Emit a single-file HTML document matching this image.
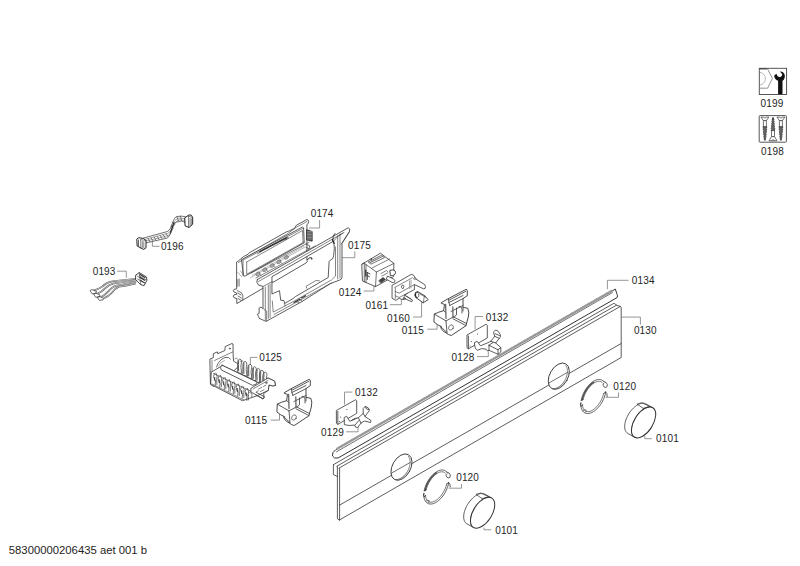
<!DOCTYPE html>
<html><head><meta charset="utf-8"><style>
html,body{margin:0;padding:0;background:#fff;width:800px;height:566px;overflow:hidden}
svg{display:block}
text{font-family:"Liberation Sans",sans-serif;font-size:10px;letter-spacing:0.15px;fill:#1e1e1e}
.ft{font-size:11.3px;letter-spacing:0}
.ld{fill:none;stroke:#8a8a8a;stroke-width:0.9}
.k{fill:none;stroke:#333;stroke-width:0.8;stroke-linejoin:round;stroke-linecap:round}
.kw{fill:#fff}
.g{fill:none;stroke:#999;stroke-width:0.6}
</style></head><body>
<svg width="800" height="566" viewBox="0 0 800 566">
<path class="ld" d="M319.6 220 V228 H309 M354.8 251.4 V257.7 H342.1 M152.4 240.6 V246.3 H159.5 M117.1 271.2 H126.3 V277.7 M363.7 291 H373.9 V285.7 M389.8 304.7 H401.4 V299.4 M413.1 317 H421.6 V299.4 M427.4 329.2 H437.1 V323.9 M483 316.5 H475.1 V329.2 M476.9 356.6 H488.3 V351.3 M257.4 357.4 H250.4 V368 M270.7 420.1 H279.5 V413.9 M352.4 392.1 H344.5 V404.5 M346.2 431.8 H358 V426.5 M628.6 280.3 H607.4 V289.2 M621.5 317.1 H640.4 V324.5 M618.5 392.5 V397.3 H605.7 M651.8 438.7 H644.75 V436 M461.5 484 V488.2 H448.75 M491.2 529.75 H484 V527.5"/>
<!-- 10_panel.svg -->
<g class="k">
<!-- flange lines -->
<path d="M333.4 464.7 L613.3 303.6 Q615 302.8 616.4 305.2 L620.3 306.4 Q621.2 307 621.2 308 V357.5 L339.4 520"/>
<path d="M336.9 466.2 L616.4 305.2"/>
<path d="M338.9 468.2 L620.3 306.4"/>
<path d="M333.4 464.7 V474.5 L337.4 476.5"/>
<path d="M337.4 466.5 V518.8 L339.4 520 M339.6 468.5 V520"/>
<path d="M339.6 505.1 L621.2 343.5"/>
<!-- rail 0134 -->
<path d="M615 289.3 L336 449.5 Q331.5 452.5 332.5 456 Q334 459 338 458 L617.2 297.5 Q618 296 617 294 Z" stroke-width="1"/>
<path d="M612.4 292.6 L336.5 451.8" stroke-width="0.7"/>
<path d="M611.5 291 L337.5 448.5" stroke="#999" stroke-width="2.4" stroke-dasharray="0.5 0.7"/>
</g>

<!-- 12_holes.svg -->
<g class="k">
<ellipse class="kw" cx="401.50" cy="467.10" rx="9.10" ry="14.20" transform="rotate(29.50 401.50 467.10)" stroke-width="0.85"/>
<path d="M408.44 456.35 L408.90 457.02 L409.29 457.77 L409.62 458.59 L409.86 459.47 L410.03 460.41 L410.13 461.40 L410.15 462.42 L410.08 463.48 L409.94 464.57 L409.73 465.67 L409.44 466.78 L409.08 467.90 L408.64 469.00 L408.14 470.09 L407.58 471.15 L406.96 472.17 L406.29 473.16 L405.57 474.10 L404.80 474.98 L404.00 475.81 L403.16 476.56 L402.30 477.24 L401.43 477.84 L400.54 478.35 L399.64 478.78 L398.75 479.11 L397.87 479.36 L397.00 479.50 L396.15 479.55 L395.34 479.50 L394.55 479.36" stroke-width="0.6"/>
<path d="M406.29 473.16 L408.51 473.05 M404.96 474.81 L407.19 474.81 M403.50 476.27 L405.72 476.38 M401.95 477.49 L404.16 477.73 M400.36 478.44 L402.52 478.81 M398.75 479.11 L400.87 479.60 M397.17 479.48 L399.22 480.08 M395.66 479.54 L397.64 480.25 M394.25 479.28 L396.15 480.09 " stroke="#777" stroke-width="0.5"/>
<path d="M391.30 473.27 L410.10 462.50" stroke-width="0.7"/>
<ellipse class="kw" cx="558.80" cy="376.20" rx="9.10" ry="14.20" transform="rotate(29.50 558.80 376.20)" stroke-width="0.85"/>
<path d="M565.74 365.45 L566.20 366.12 L566.59 366.87 L566.92 367.69 L567.16 368.57 L567.33 369.51 L567.43 370.50 L567.45 371.52 L567.38 372.58 L567.24 373.67 L567.03 374.77 L566.74 375.88 L566.38 377.00 L565.94 378.10 L565.44 379.19 L564.88 380.25 L564.26 381.27 L563.59 382.26 L562.87 383.20 L562.10 384.08 L561.30 384.91 L560.46 385.66 L559.60 386.34 L558.73 386.94 L557.84 387.45 L556.94 387.88 L556.05 388.21 L555.17 388.46 L554.30 388.60 L553.45 388.65 L552.64 388.60 L551.85 388.46" stroke-width="0.6"/>
<path d="M563.59 382.26 L565.81 382.15 M562.26 383.91 L564.49 383.91 M560.80 385.37 L563.02 385.48 M559.25 386.59 L561.46 386.83 M557.66 387.54 L559.82 387.91 M556.05 388.21 L558.17 388.70 M554.47 388.58 L556.52 389.18 M552.96 388.64 L554.94 389.35 M551.55 388.38 L553.45 389.19 " stroke="#777" stroke-width="0.5"/>
<path d="M548.80 383.07 L567.30 372.47" stroke-width="0.7"/>
</g>

<!-- 20_round.svg -->
<g class="k"><path class="kw" d="M627.78 433.36 L627.17 432.95 L626.62 432.46 L626.13 431.88 L625.71 431.22 L625.36 430.49 L625.08 429.68 L624.87 428.80 L624.73 427.86 L624.67 426.86 L624.68 425.81 L624.77 424.72 L624.93 423.58 L625.17 422.42 L625.47 421.24 L625.85 420.03 L626.29 418.82 L626.80 417.61 L627.37 416.41 L628.00 415.21 L628.68 414.04 L629.42 412.90 L630.20 411.79 L631.01 410.72 L631.87 409.70 L632.75 408.74 L633.66 407.84 L634.59 407.00 L635.54 406.24 L636.49 405.55 L637.44 404.94 L638.39 404.42 L639.33 403.98 L640.25 403.64 L641.15 403.38 L642.03 403.22 L642.87 403.16 L643.68 403.19 L644.44 403.31 L645.16 403.53 L645.82 403.84 L652.62 407.64 L651.96 407.33 L651.24 407.11 L650.48 406.99 L649.67 406.96 L648.83 407.02 L647.95 407.18 L647.05 407.44 L646.13 407.78 L645.19 408.22 L644.24 408.74 L643.29 409.35 L642.34 410.04 L641.39 410.80 L640.46 411.64 L639.55 412.54 L638.67 413.50 L637.81 414.52 L637.00 415.59 L636.22 416.70 L635.48 417.84 L634.80 419.01 L634.17 420.21 L633.60 421.41 L633.09 422.62 L632.65 423.83 L632.27 425.04 L631.97 426.22 L631.73 427.38 L631.57 428.52 L631.48 429.61 L631.47 430.66 L631.53 431.66 L631.67 432.60 L631.88 433.48 L632.16 434.29 L632.51 435.02 L632.93 435.68 L633.42 436.26 L633.97 436.75 L634.58 437.16 Z"/><ellipse class="kw" cx="643.60" cy="422.40" rx="9.30" ry="17.30" transform="rotate(32.30 643.60 422.40)" stroke-width="1"/><path d="M637.30 404.00 L641.70 402.70 L649.70 406.50 L643.60 408.20 Z" stroke-width="0.7"/><path d="M643.30 408.30 l-0.6 2.2" stroke-width="0.6"/></g>
<g class="k"><path class="kw" d="M466.78 523.66 L466.17 523.25 L465.62 522.76 L465.13 522.18 L464.71 521.52 L464.36 520.79 L464.08 519.98 L463.87 519.10 L463.73 518.16 L463.67 517.16 L463.68 516.11 L463.77 515.02 L463.93 513.88 L464.17 512.72 L464.47 511.54 L464.85 510.33 L465.29 509.12 L465.80 507.91 L466.37 506.71 L467.00 505.51 L467.68 504.34 L468.42 503.20 L469.20 502.09 L470.01 501.02 L470.87 500.00 L471.75 499.04 L472.66 498.14 L473.59 497.30 L474.54 496.54 L475.49 495.85 L476.44 495.24 L477.39 494.72 L478.33 494.28 L479.25 493.94 L480.15 493.68 L481.03 493.52 L481.87 493.46 L482.68 493.49 L483.44 493.61 L484.16 493.83 L484.82 494.14 L491.62 497.94 L490.96 497.63 L490.24 497.41 L489.48 497.29 L488.67 497.26 L487.83 497.32 L486.95 497.48 L486.05 497.74 L485.13 498.08 L484.19 498.52 L483.24 499.04 L482.29 499.65 L481.34 500.34 L480.39 501.10 L479.46 501.94 L478.55 502.84 L477.67 503.80 L476.81 504.82 L476.00 505.89 L475.22 507.00 L474.48 508.14 L473.80 509.31 L473.17 510.51 L472.60 511.71 L472.09 512.92 L471.65 514.13 L471.27 515.34 L470.97 516.52 L470.73 517.68 L470.57 518.82 L470.48 519.91 L470.47 520.96 L470.53 521.96 L470.67 522.90 L470.88 523.78 L471.16 524.59 L471.51 525.32 L471.93 525.98 L472.42 526.56 L472.97 527.05 L473.58 527.46 Z"/><ellipse class="kw" cx="482.60" cy="512.70" rx="9.30" ry="17.30" transform="rotate(32.30 482.60 512.70)" stroke-width="1"/><path d="M476.30 494.30 L480.70 493.00 L488.70 496.80 L482.60 498.50 Z" stroke-width="0.7"/><path d="M482.30 498.60 l-0.6 2.2" stroke-width="0.6"/></g>
<g class="k"><path d="M581.22 400.28 L581.42 399.32 L581.65 398.36 L581.93 397.39 L582.24 396.42 L582.59 395.44 L582.98 394.48 L583.40 393.51 L583.85 392.56 L584.33 391.62 L584.84 390.70 L585.38 389.79 L585.95 388.91 L586.54 388.05 L587.15 387.22 L587.78 386.42 L588.43 385.65 L589.10 384.92 L589.78 384.23 L590.48 383.57 L591.18 382.96 L591.89 382.39 L592.61 381.87 L593.32 381.40 L594.04 380.97 L594.76 380.60 L595.47 380.27 L596.17 380.00 L596.87 379.79 L597.55 379.63 L598.22 379.52 L598.88 379.47 L599.52 379.47 L600.13 379.53 L600.73 379.65 L601.30 379.82 L601.85 380.05 L602.36 380.32 L602.85 380.66 L603.31 381.04 L603.74 381.47"/><path d="M583.14 399.37 L583.35 398.56 L583.59 397.75 L583.86 396.93 L584.16 396.10 L584.48 395.28 L584.83 394.47 L585.20 393.66 L585.60 392.85 L586.02 392.06 L586.47 391.28 L586.93 390.52 L587.41 389.77 L587.91 389.04 L588.43 388.34 L588.96 387.66 L589.50 387.00 L590.06 386.38 L590.62 385.78 L591.19 385.21 L591.77 384.68 L592.36 384.18 L592.94 383.71 L593.53 383.29 L594.12 382.90 L594.70 382.55 L595.29 382.25 L595.86 381.98 L596.43 381.76 L596.99 381.58 L597.54 381.44 L598.08 381.35 L598.60 381.30 L599.11 381.30 L599.60 381.34 L600.08 381.43 L600.53 381.56 L600.97 381.73 L601.38 381.95 L601.77 382.21 L602.13 382.51" stroke-width="0.7"/><path d="M582.15 399.94 L582.26 399.43 L582.38 398.92 L582.52 398.40 L582.67 397.88 L582.82 397.36 L582.99 396.84 L583.17 396.32 L583.36 395.80 L583.56 395.28 L583.78 394.77 L584.00 394.25 L584.23 393.74 L584.47 393.22 L584.72 392.72 L584.98 392.21 L585.25 391.71 L585.52 391.22 L585.81 390.73 L586.10 390.25 L586.40 389.77 L586.71 389.30 L587.02 388.84 L587.34 388.39 L587.67 387.94 L588.00 387.50 L588.34 387.08 L588.68 386.66 L589.03 386.25 L589.39 385.86 L589.74 385.47 L590.11 385.10 L590.47 384.74 L590.84 384.39 L591.21 384.05 L591.58 383.73 L591.96 383.41 L592.33 383.12 L592.71 382.83 L593.09 382.57 L593.47 382.31" stroke-width="1.6" stroke="#555"/><path d="M605.71 391.97 L605.48 393.23 L605.18 394.50 L604.82 395.78 L604.39 397.07 L603.89 398.35 L603.34 399.63 L602.73 400.88 L602.07 402.11 L601.36 403.31 L600.60 404.47 L599.80 405.58 L598.96 406.65 L598.10 407.65 L597.20 408.59 L596.29 409.46 L595.35 410.26 L594.41 410.98 L593.46 411.61 L592.51 412.16 L591.57 412.63 L590.63 412.99 L589.71 413.27 L588.82 413.45 L587.95 413.53 L587.11 413.51 L586.30 413.40 L585.54 413.19 L584.82 412.89 L584.15 412.49 L583.53 412.00 L582.97 411.43 L582.47 410.76 L582.03 410.02 L581.66 409.20 L581.35 408.30 L581.12 407.34 L580.95 406.32 L580.85 405.24 L580.83 404.11 L580.87 402.94"/><path d="M603.70 393.47 L603.43 394.50 L603.12 395.55 L602.76 396.60 L602.35 397.65 L601.90 398.69 L601.41 399.72 L600.89 400.74 L600.32 401.73 L599.73 402.71 L599.10 403.65 L598.45 404.56 L597.77 405.43 L597.08 406.26 L596.36 407.04 L595.63 407.77 L594.89 408.44 L594.14 409.06 L593.39 409.62 L592.64 410.12 L591.90 410.56 L591.16 410.92 L590.43 411.22 L589.71 411.45 L589.02 411.60 L588.34 411.69 L587.69 411.70 L587.06 411.64 L586.47 411.51 L585.90 411.30 L585.38 411.03 L584.89 410.68 L584.44 410.27 L584.04 409.79 L583.68 409.25 L583.36 408.65 L583.10 407.99 L582.88 407.28 L582.71 406.52 L582.60 405.70 L582.53 404.85" stroke-width="0.7"/><path d="M603.74 381.47 q3.2 0.6 3.6 3.2 q0.2 2.6 -1.6 2.8 q-2 0 -2.6 -2.2 q-0.3 -1.5 0.8 -2.2"/><path d="M605.71 391.97 L603.70 393.47 M605.71 391.97 q1.8 1 1.5 4.5"/><path d="M580.87 402.94 q-1.2 1.8 0.3 3.6 L582.53 404.85"/><path d="M581.22 400.28 L583.14 399.37"/><path d="M583.21 410.53 q1.5 -1.8 3 -0.4 q0.4 1.4 -0.8 2.2" stroke-width="0.6"/></g>
<g class="k"><path d="M424.22 490.78 L424.42 489.82 L424.65 488.86 L424.93 487.89 L425.24 486.92 L425.59 485.94 L425.98 484.98 L426.40 484.01 L426.85 483.06 L427.33 482.12 L427.84 481.20 L428.38 480.29 L428.95 479.41 L429.54 478.55 L430.15 477.72 L430.78 476.92 L431.43 476.15 L432.10 475.42 L432.78 474.73 L433.48 474.07 L434.18 473.46 L434.89 472.89 L435.61 472.37 L436.32 471.90 L437.04 471.47 L437.76 471.10 L438.47 470.77 L439.17 470.50 L439.87 470.29 L440.55 470.13 L441.22 470.02 L441.88 469.97 L442.52 469.97 L443.13 470.03 L443.73 470.15 L444.30 470.32 L444.85 470.55 L445.36 470.82 L445.85 471.16 L446.31 471.54 L446.74 471.97"/><path d="M426.14 489.87 L426.35 489.06 L426.59 488.25 L426.86 487.43 L427.16 486.60 L427.48 485.78 L427.83 484.97 L428.20 484.16 L428.60 483.35 L429.02 482.56 L429.47 481.78 L429.93 481.02 L430.41 480.27 L430.91 479.54 L431.43 478.84 L431.96 478.16 L432.50 477.50 L433.06 476.88 L433.62 476.28 L434.19 475.71 L434.77 475.18 L435.36 474.68 L435.94 474.21 L436.53 473.79 L437.12 473.40 L437.70 473.05 L438.29 472.75 L438.86 472.48 L439.43 472.26 L439.99 472.08 L440.54 471.94 L441.08 471.85 L441.60 471.80 L442.11 471.80 L442.60 471.84 L443.08 471.93 L443.53 472.06 L443.97 472.23 L444.38 472.45 L444.77 472.71 L445.13 473.01" stroke-width="0.7"/><path d="M425.15 490.44 L425.26 489.93 L425.38 489.42 L425.52 488.90 L425.67 488.38 L425.82 487.86 L425.99 487.34 L426.17 486.82 L426.36 486.30 L426.56 485.78 L426.78 485.27 L427.00 484.75 L427.23 484.24 L427.47 483.72 L427.72 483.22 L427.98 482.71 L428.25 482.21 L428.52 481.72 L428.81 481.23 L429.10 480.75 L429.40 480.27 L429.71 479.80 L430.02 479.34 L430.34 478.89 L430.67 478.44 L431.00 478.00 L431.34 477.58 L431.68 477.16 L432.03 476.75 L432.39 476.36 L432.74 475.97 L433.11 475.60 L433.47 475.24 L433.84 474.89 L434.21 474.55 L434.58 474.23 L434.96 473.91 L435.33 473.62 L435.71 473.33 L436.09 473.07 L436.47 472.81" stroke-width="1.6" stroke="#555"/><path d="M448.71 482.47 L448.48 483.73 L448.18 485.00 L447.82 486.28 L447.39 487.57 L446.89 488.85 L446.34 490.13 L445.73 491.38 L445.07 492.61 L444.36 493.81 L443.60 494.97 L442.80 496.08 L441.96 497.15 L441.10 498.15 L440.20 499.09 L439.29 499.96 L438.35 500.76 L437.41 501.48 L436.46 502.11 L435.51 502.66 L434.57 503.13 L433.63 503.49 L432.71 503.77 L431.82 503.95 L430.95 504.03 L430.11 504.01 L429.30 503.90 L428.54 503.69 L427.82 503.39 L427.15 502.99 L426.53 502.50 L425.97 501.93 L425.47 501.26 L425.03 500.52 L424.66 499.70 L424.35 498.80 L424.12 497.84 L423.95 496.82 L423.85 495.74 L423.83 494.61 L423.87 493.44"/><path d="M446.70 483.97 L446.43 485.00 L446.12 486.05 L445.76 487.10 L445.35 488.15 L444.90 489.19 L444.41 490.22 L443.89 491.24 L443.32 492.23 L442.73 493.21 L442.10 494.15 L441.45 495.06 L440.77 495.93 L440.08 496.76 L439.36 497.54 L438.63 498.27 L437.89 498.94 L437.14 499.56 L436.39 500.12 L435.64 500.62 L434.90 501.06 L434.16 501.42 L433.43 501.72 L432.71 501.95 L432.02 502.10 L431.34 502.19 L430.69 502.20 L430.06 502.14 L429.47 502.01 L428.90 501.80 L428.38 501.53 L427.89 501.18 L427.44 500.77 L427.04 500.29 L426.68 499.75 L426.36 499.15 L426.10 498.49 L425.88 497.78 L425.71 497.02 L425.60 496.20 L425.53 495.35" stroke-width="0.7"/><path d="M446.74 471.97 q3.2 0.6 3.6 3.2 q0.2 2.6 -1.6 2.8 q-2 0 -2.6 -2.2 q-0.3 -1.5 0.8 -2.2"/><path d="M448.71 482.47 L446.70 483.97 M448.71 482.47 q1.8 1 1.5 4.5"/><path d="M423.87 493.44 q-1.2 1.8 0.3 3.6 L425.53 495.35"/><path d="M424.22 490.78 L426.14 489.87"/><path d="M426.21 501.03 q1.5 -1.8 3 -0.4 q0.4 1.4 -0.8 2.2" stroke-width="0.6"/></g>
<!-- 30_module.svg -->
<g class="k">
<!-- 0174 PCB board -->
<path class="kw" d="M236.8 303.2 V298.6 L234 297.6 Q232.6 296.2 234 294.8 L236.6 294.3 V293 L234 292 Q232.6 290.6 234 289.4 L236.6 288.8 V262 L238.5 260.8 L243.5 256.6 L248 254.3 L249.3 252.8 L286.5 231.8 L288.5 231.3 L294.5 228.3 L296.3 225.3 L306.9 219.5 Q308.8 219.8 308.6 221.5 L308.2 223.5 L306.9 224.5 V259.8 Q308.3 261.6 306.3 262.8 Z"/>
<path d="M238.5 262.5 L249 255.8 L287 234 L296.5 227.2 L306.9 221.5" stroke-width="0.6"/>
<!-- components on board left -->
<path d="M237.2 290.5 L241.5 292.8 L242.8 295.5 V300 M238 296 l3.5 2 M238 298.5 l3.5 2 M237.5 293 l3.5 2" stroke-width="0.7"/>
<path d="M237.8 279.5 v7 M239.2 279 v7" stroke="#666" stroke-width="0.8"/>
<path d="M237.5 272 l4 4.5 M240.5 271 l3 4" stroke-width="0.6" stroke="#777"/>
<!-- connector dark on right -->
<path d="M306.9 229.7 L312.2 231.5 V241.2 L306.9 240 Z" fill="#555" stroke="#222" stroke-width="0.7"/><path d="M307.5 231.5 H311.6 M307.5 233 H311.6 M307.5 234.5 H311.6 M307.5 236 H311.6 M307.5 237.5 H311.6 M307.5 239 H311.6" stroke="#bbb" stroke-width="0.5"/>
<path d="M306 244 l4 2 l-1 2 M306.5 247.5 l3.5 1.8" stroke-width="0.7"/>
<!-- display bar -->
<path class="kw" d="M241.8 259.5 L302.5 227 L303.6 228 L304.2 242.8 L244.9 276.2 L243.8 275.6 Z"/>
<path d="M243 260.1 L303.6 228 M243 260.1 V276 M246.7 262 V274.3 L304 242 M246.7 262 L302.5 230.5 L303 242" stroke-width="0.6"/>
<!-- dark printed strip -->
<path d="M260 251.6 L287 237.6" stroke="#333" stroke-width="1.5" stroke-dasharray="0.9 0.5"/>
<path d="M257.5 253.7 L261 251.8 M284.5 240 L288.5 237.8" stroke-width="0.6"/>
<!-- button band -->
<path d="M251 273.1 L309.2 242.2 M256 278 L315 246" stroke-width="0.6"/>
<path d="M261 275.5 l-2 -3.5 M268 271.8 l-2 -3.5 M275.2 268 l-2 -3.5 M282.3 264.2 l-2 -3.5" stroke-width="0.5" stroke="#666"/>
<g fill="#bbb" stroke="#666" stroke-width="0.6">
<ellipse cx="257.9" cy="274" rx="2.2" ry="1.7" transform="rotate(-30 257.9 274)"/>
<ellipse cx="264.7" cy="269.8" rx="2.2" ry="1.7" transform="rotate(-30 264.7 269.8)"/>
<ellipse cx="272.1" cy="265.6" rx="2.2" ry="1.7" transform="rotate(-30 272.1 265.6)"/>
<ellipse cx="278.9" cy="261.8" rx="2.2" ry="1.7" transform="rotate(-30 278.9 261.8)"/>
<ellipse cx="286.3" cy="257.4" rx="2.2" ry="1.7" transform="rotate(-30 286.3 257.4)"/>
</g>
</g>
<path d="M252 275.5 L304 246 M250 278 L306 246.5" stroke-width="0.5" stroke="#777"/>
</g>
<g class="k">
<!-- 0175 frame -->
<path class="kw" fill-rule="evenodd" d="M257.3 279.6 L348.3 227.7 Q350.2 228.5 349.6 231.3 L342 243.5 V277.3 Q341.8 279.5 339.8 280 L330.3 283.6 L302 301.5 L266.1 321.4 L259.1 318.3 L258.6 316.5 L257.3 314.3 L259.1 313.4 V308.1 L260.8 307.2 L263 308.5 V286.5 L258.5 285 Q255.5 282 257.3 279.6 Z
 M272.3 276.5 L333.8 241 L334.3 248.8 Q333.5 257.5 333 258.4 Q330 260 329.1 261.6 L328.2 277.5 L295.4 296.6 L293 298.6 L284.7 303.4 L283.9 300.6 L280.7 300.2 L279.5 290.7 L272.3 293.8 Z"/>
<path d="M258.5 281.5 L344 232.5" stroke-width="0.6"/>
<path d="M263 286.5 L272.3 281.5 M333.8 241 L337.7 236.5 L343 233" stroke-width="0.6"/>
<path d="M265.3 287 V320 M268.3 285 V318.5 M270.1 284 V317.5" stroke-width="0.6"/>
<path d="M263.5 309 L266.6 311.2 V321" stroke-width="0.6"/>
<path d="M337.7 236 V279 M340 234 V278 M341.2 244.1 L349.6 231.3" stroke-width="0.6"/>
<path d="M335.5 247 V276 L331.5 280" stroke-width="0.6"/>
<path d="M333 239.7 L333.3 236 L335 233.5" stroke-width="0.9"/>
<!-- bottom rail inner -->
<path d="M272.3 301 L273.2 312.1 L293.8 301.3 L330.5 280.5 M274 314.5 L331.5 283 M284.7 303.4 L285 306" stroke-width="0.6"/>
<path d="M306.8 288.2 L306 286.3 L316 280.5 L319.5 280.8" stroke-width="0.6"/>
<path d="M294 302.5 l6 -3.5 M301.5 298 l4 -2.3" stroke="#333" stroke-width="1.1"/>
<path d="M296 301.5 l3 1 M300 299.5 l2 1.5" stroke-width="0.6"/>
<!-- hook on top rail -->
<path d="M307.5 259.5 q2.5 -3 4.5 -1.5 l-0.2 1.3" stroke="#222" stroke-width="1"/><path d="M332.3 239.5 l1.8 4" stroke="#222" stroke-width="1.2"/>
</g>

<!-- 40_switches.svg -->
<g class="k">
<!-- 0124 thermostat box -->
<path class="kw" d="M362.1 264.1 L380.5 253.2 L393.9 263.4 L393.6 276.5 L375.5 286.6 L362.8 281.1 Z"/>
<path d="M362.1 264.1 L364.3 263 L366 264.5 L376.4 272 L393.9 263.4 M376.4 272 L375.5 286.6 M364.3 263 V281.8 M366 264.5 V282.5" stroke-width="0.7"/>
<path d="M368.5 261.8 L381.5 255.3 L384.5 257.6 L371.3 264 Z" stroke-width="0.7"/>
<path d="M370 262.6 L382.8 256.3" stroke="#666" stroke-width="1" stroke-dasharray="0.6 0.6"/>
<path d="M372 268 L389.5 259" stroke-width="0.6"/>
<path d="M371.5 259.8 l-0.4 -1.3" stroke-width="0.9"/>
<path d="M367.3 272.5 V279.5 M367.3 272.5 L370 274 M367.3 275.5 L369.5 276.8" stroke-width="0.9"/>
<path d="M365.8 270 V276" stroke="#222" stroke-width="1.1"/>
<path d="M379 280.5 L383 277.5 L385.5 279.5 L381 283 Z" fill="#444" stroke-width="0.6"/>
<path d="M381 273.5 L386.5 270.5 L388 272 M382 276 L387.5 273" stroke-width="0.6"/>
<path class="kw" d="M390.2 270.3 Q395.6 268.8 395.5 272.8 Q395.2 275.6 390.8 275.8 Z" stroke-width="0.9"/>
<path class="kw" d="M387.8 276.2 L393.8 279.2 Q395.8 280.6 394.5 282.3 Q393.3 283 392 282.4 L386.6 279.3 Z" stroke-width="0.8"/>
</g>
<g class="k">
<!-- 0161 bracket -->
<path class="kw" d="M392.4 285.2 L411.2 274.4 Q413.8 274.3 414.9 277.3 L416.5 279.4 L424.7 284.6 Q426 286.5 425.1 288.5 L423.5 288.8 L414.4 284.6 V289.5 L407.5 293.2 L404.5 295.2 L409.5 298 L412.5 300 L411.8 301.8 L404.5 298.5 L402 299.6 L399.2 298.2 L395.8 300.4 L392.4 298.5 Z"/>
<path d="M394.8 287.4 L412.3 277.8 M395.3 287.9 V298.7 M395.3 291.5 L399 293.2 L414.4 284.6 M395.3 295.8 L399 297.5 L407.5 293.2" stroke-width="0.6"/>
<path d="M401.8 285.5 Q403.5 284 404 286 L403.2 288.5 Q402 289 401.5 287.5 Z" stroke-width="0.7"/>
<path d="M409.5 281 V288.5 M411 280.5 V288" stroke="#999" stroke-width="0.9"/>
<path d="M414.9 277.3 L413.5 279 L416.5 279.4" stroke-width="0.6"/>
<path d="M404.5 295.2 L403.8 297.8 M406 296 L411 299.3" stroke-width="0.6"/>
<circle cx="404.2" cy="298.6" r="1.1" stroke-width="0.6"/>
<!-- 0160 cylinder -->
<path class="kw" d="M417.8 291.8 L424.5 295.6 L428.2 299.6 L423.2 302.8 L416.2 297.8 Q414 296 415.2 293.3 Q416.3 291.5 417.8 291.8 Z" stroke-width="0.9"/>
<path d="M417.6 292.2 Q419.6 293.2 418.8 296.2 Q418 298.2 416.5 297.8" stroke-width="0.7"/>
<path d="M416 292.5 Q414.6 294.8 416.3 297.5" stroke="#222" stroke-width="1.2"/>
<path d="M424.5 295.6 L423.2 302.8 M420 294 L425.5 297.2" stroke-width="0.6"/>
</g>

<!-- 50_small.svg -->
<g class="k"><path class="kw" stroke-width="0.9" d="M 441.60 302.50 L 448.40 298.60 L 465.90 289.40 Q 467.30 289.30 467.30 290.80 L 467.30 295.70 L 463.00 298.60 L 463.00 307.30 L 467.80 308.30 L 468.80 312.20 L 468.30 317.00 L 465.90 325.80 L 451.30 335.50 L 448.40 334.50 L 442.60 330.60 L 440.70 327.70 L 441.60 326.70 L 437.70 324.80 L 433.90 321.90 L 434.30 314.10 L 438.70 312.20 L 443.60 310.70 L 444.50 304.40 L 441.60 303.40 Z"/><path class="k" stroke-width="0.6" d="M 448.90 302.50 L 463.00 295.50 M 449.90 305.40 L 463.00 298.60 M 448.40 298.60 L 448.90 302.50 L 449.90 305.40"/><path class="k" stroke-width="0.6" d="M 434.30 314.10 L 446.00 320.90 L 447.00 332.60 M 446.00 320.90 L 456.00 315.50 M 443.60 310.70 L 446.00 312.50"/><path class="k" stroke-width="0.6" d="M 453.30 316.80 L 466.50 323.50 M 453.00 318.80 L 466.00 325.60 M 451.00 311.50 L 463.00 305.50 M 456.50 314.50 V 308.00 M 459.00 306.50 Q 461.50 305.80 462.00 309.50 V 313.00"/><path class="k" stroke-width="0.6" d="M 440.50 326.50 L 447.00 332.60 M 463.00 307.30 V 311.00"/><path class="k" stroke-width="1.2" d="M 449.30 300.00 L 465.80 291.30"/><ellipse cx="451.00" cy="327.50" rx="2.2" ry="2.8" transform="rotate(30 451.00 327.50)" stroke-width="0.6"/><path d="M 445.60 304.50 L 446.00 318.50 M 452.80 307.00 L 453.00 317.50" stroke="#666" stroke-width="1.3"/></g>
<g class="k"><path class="kw" stroke-width="0.9" d="M 284.60 392.50 L 291.40 388.60 L 308.90 379.40 Q 310.30 379.30 310.30 380.80 L 310.30 385.70 L 306.00 388.60 L 306.00 397.30 L 310.80 398.30 L 311.80 402.20 L 311.30 407.00 L 308.90 415.80 L 294.30 425.50 L 291.40 424.50 L 285.60 420.60 L 283.70 417.70 L 284.60 416.70 L 280.70 414.80 L 276.90 411.90 L 277.30 404.10 L 281.70 402.20 L 286.60 400.70 L 287.50 394.40 L 284.60 393.40 Z"/><path class="k" stroke-width="0.6" d="M 291.90 392.50 L 306.00 385.50 M 292.90 395.40 L 306.00 388.60 M 291.40 388.60 L 291.90 392.50 L 292.90 395.40"/><path class="k" stroke-width="0.6" d="M 277.30 404.10 L 289.00 410.90 L 290.00 422.60 M 289.00 410.90 L 299.00 405.50 M 286.60 400.70 L 289.00 402.50"/><path class="k" stroke-width="0.6" d="M 296.30 406.80 L 309.50 413.50 M 296.00 408.80 L 309.00 415.60 M 294.00 401.50 L 306.00 395.50 M 299.50 404.50 V 398.00 M 302.00 396.50 Q 304.50 395.80 305.00 399.50 V 403.00"/><path class="k" stroke-width="0.6" d="M 283.50 416.50 L 290.00 422.60 M 306.00 397.30 V 401.00"/><path class="k" stroke-width="1.2" d="M 292.30 390.00 L 308.80 381.30"/><ellipse cx="294.00" cy="417.50" rx="2.2" ry="2.8" transform="rotate(30 294.00 417.50)" stroke-width="0.6"/><path d="M 288.60 394.50 L 289.00 408.50 M 295.80 397.00 L 296.00 407.50" stroke="#666" stroke-width="1.3"/></g>
<g class="k"><path class="kw" stroke-width="0.8" d="M 467.30 334.80 L 486.30 324.20 L 487.30 325.30 L 487.30 337.90 L 468.30 348.90 L 467.30 348.00 Z"/><path class="k" stroke-width="0.6" d="M 468.40 335.90 V 348.60"/><circle cx="477.50" cy="334.00" r="0.5" fill="#333" stroke="none"/><circle cx="471.30" cy="341.50" r="0.5" fill="#333" stroke="none"/><circle cx="470.00" cy="346.00" r="0.5" fill="#333" stroke="none"/></g>
<g class="k"><path class="kw" stroke-width="0.8" d="M 336.70 410.30 L 355.70 399.70 L 356.70 400.80 L 356.70 413.40 L 337.70 424.40 L 336.70 423.50 Z"/><path class="k" stroke-width="0.6" d="M 337.80 411.40 V 424.10"/><circle cx="346.90" cy="409.50" r="0.5" fill="#333" stroke="none"/><circle cx="340.70" cy="417.00" r="0.5" fill="#333" stroke="none"/><circle cx="339.40" cy="421.50" r="0.5" fill="#333" stroke="none"/></g>
<g class="k"><path class="kw" stroke-width="0.8" d="M474.8 342.4 L477.1 341.3 L480.5 345.8 L487.3 343 L490.7 341.3 L493.5 337.9 L494.6 336.2 L493.5 332.2 L495.2 330.2 L497.4 330.5 L500.3 334.5 L500.3 337.3 L499.1 338.4 L495.7 343 L500.8 347.5 L500.8 352 L498 354.3 L489 350.3 L487.3 350.9 L486.1 349.2 L481.6 348.6 L477.7 350.3 L475.4 348.6 L474.8 345.8 Z"/><path class="k" stroke-width="0.6" d="M489 345.2 L489 350.3 M489 345.2 L498 349.8 L500.8 347.5 M498 349.8 V354.3 M489 345.2 L493 342.5 M494.6 336.2 L499.1 338.4 M495.2 333.8 L499.5 335.5 M490.7 341.3 L495.7 343"/></g>
<g class="k"><path class="kw" stroke-width="0.8" d="M344.5 417.4 L346.5 416.2 L349.8 421.3 L358.3 417.7 L363.2 413.5 L363.2 408.5 L365.3 406.4 L368.2 407.8 L369.6 410 L367.5 413 L365 416.5 L371 420.5 L370.5 422.5 L364.5 421 L361 423 L357.6 427.6 L355.5 427 L354.5 425 L349.8 425.5 L344.8 424.8 Z"/><path class="k" stroke-width="0.6" d="M358.3 417.7 L361 423 M363.2 413.5 L365 416.5 M365.3 406.4 L366.5 409 L368.5 409.5 M352 420 L356 418 M355 425 L359 420.5"/></g>
<!-- 60_selector.svg -->
<g class="k">
<path class="kw" d="M210.2 359 L213.3 357.7 L213.3 353.7 L217.3 351.9 L217.7 353.7 L224.8 350.6 L225.2 346.6 L231.9 343.5 L233 344 L233.2 355.9 L233.6 361.2 L240 365 L224 380 L213 386.5 L210.7 384.2 Z"/>
<path d="M212 360 V384 M214.5 360.5 L232.5 352" stroke-width="0.6"/>
<circle cx="229.8" cy="348.5" r="0.6" stroke-width="0.6"/>
<path d="M216.5 367 Q218.5 360 225 357.5 Q229 356.5 230.5 359" stroke-width="0.7"/>
<path d="M218.5 366 Q220 362 224.5 360.5" stroke-width="0.6" stroke="#777"/>
<path class="kw" d="M211.5 372 L222.5 365.5 L258 382.4 L268 378 L274.6 381.1 L275.5 385.5 L272.8 385.9 L268.9 385 L268.4 390.3 L263.6 393.5 L264.2 397.8 L262.8 398.8 L257.4 395.6 L247.7 398.9 L242.4 400.7 L211 384.5 Z"/>
<path class="kw" stroke-width="0.7" d="M237.40 372.20 L237.60 362.30 Q237.80 359.30 239.80 359.10 Q241.40 359.30 241.60 361.80 L241.10 364.30 Q240.40 365.80 241.60 372.90 L241.60 373.00 Z"/>
<path d="M238.60 360.80 Q238.20 363.30 238.60 370.90" stroke="#333" stroke-width="0.8"/>
<path class="kw" stroke-width="0.7" d="M242.70 374.85 L242.90 364.60 Q243.10 361.60 245.10 361.40 Q246.70 361.60 246.90 364.10 L246.40 366.60 Q245.70 368.10 246.90 375.55 L246.90 375.65 Z"/>
<path d="M243.90 363.10 Q243.50 365.60 243.90 373.55" stroke="#333" stroke-width="0.8"/>
<path class="kw" stroke-width="0.7" d="M247.60 377.30 L247.80 367.40 Q248.00 364.40 250.00 364.20 Q251.60 364.40 251.80 366.90 L251.30 369.40 Q250.60 370.90 251.80 378.00 L251.80 378.10 Z"/>
<path d="M248.80 365.90 Q248.40 368.40 248.80 376.00" stroke="#333" stroke-width="0.8"/>
<path class="kw" stroke-width="0.7" d="M252.20 379.60 L252.40 369.90 Q252.60 366.90 254.60 366.70 Q256.20 366.90 256.40 369.40 L255.90 371.90 Q255.20 373.40 256.40 380.30 L256.40 380.40 Z"/>
<path d="M253.40 368.40 Q253.00 370.90 253.40 378.30" stroke="#333" stroke-width="0.8"/>
<path class="kw" stroke-width="0.7" d="M255.90 381.45 L256.10 371.60 Q256.30 368.60 258.30 368.40 Q259.90 368.60 260.10 371.10 L259.60 373.60 Q258.90 375.10 260.10 382.15 L260.10 382.25 Z"/>
<path d="M257.10 370.10 Q256.70 372.60 257.10 380.15" stroke="#333" stroke-width="0.8"/>
<path class="kw" stroke-width="0.7" d="M259.50 383.25 L259.70 373.40 Q259.90 370.40 261.90 370.20 Q263.50 370.40 263.70 372.90 L263.20 375.40 Q262.50 376.90 263.70 383.95 L263.70 384.05 Z"/>
<path d="M260.70 371.90 Q260.30 374.40 260.70 381.95" stroke="#333" stroke-width="0.8"/>
<path class="kw" stroke-width="0.7" d="M262.80 384.90 L263.00 375.20 Q263.20 372.20 265.20 372.00 Q266.80 372.20 267.00 374.70 L266.50 377.20 Q265.80 378.70 267.00 385.60 L267.00 385.70 Z"/>
<path d="M264.00 373.70 Q263.60 376.20 264.00 383.60" stroke="#333" stroke-width="0.8"/>
<path d="M235.00 359.00 q1.2 -2.5 2.6 0" stroke-width="0.6"/>
<path d="M240.50 361.50 q1.2 -2.5 2.6 0" stroke-width="0.6"/>
<path class="kw" d="M222.1 365.2 L256.5 381.8 Q258.5 384 252.5 385.3 L221.4 370 Q219 367.5 222.1 365.2 Z" stroke-width="0.8"/>
<path d="M214.50 373.50 Q212.70 376.50 214.30 379.00 Q216.30 381.00 215.30 383.00 L215.30 385.00" stroke-width="0.7"/>
<path d="M216.00 373.00 Q218.00 376.50 216.70 379.50 L216.90 384.50" stroke-width="0.7"/>
<path d="M214.70 377.50 L214.80 380.50" stroke="#333" stroke-width="1" />
<path d="M219.00 375.70 Q217.20 378.70 218.80 381.20 Q220.80 383.20 219.80 385.20 L219.80 387.20" stroke-width="0.7"/>
<path d="M220.50 375.20 Q222.50 378.70 221.20 381.70 L221.40 386.70" stroke-width="0.7"/>
<path d="M219.20 379.70 L219.30 382.70" stroke="#333" stroke-width="1" />
<path d="M223.50 377.90 Q221.70 380.90 223.30 383.40 Q225.30 385.40 224.30 387.40 L224.30 389.40" stroke-width="0.7"/>
<path d="M225.00 377.40 Q227.00 380.90 225.70 383.90 L225.90 388.90" stroke-width="0.7"/>
<path d="M223.70 381.90 L223.80 384.90" stroke="#333" stroke-width="1" />
<path d="M228.00 380.10 Q226.20 383.10 227.80 385.60 Q229.80 387.60 228.80 389.60 L228.80 391.60" stroke-width="0.7"/>
<path d="M229.50 379.60 Q231.50 383.10 230.20 386.10 L230.40 391.10" stroke-width="0.7"/>
<path d="M228.20 384.10 L228.30 387.10" stroke="#333" stroke-width="1" />
<path d="M232.50 382.30 Q230.70 385.30 232.30 387.80 Q234.30 389.80 233.30 391.80 L233.30 393.80" stroke-width="0.7"/>
<path d="M234.00 381.80 Q236.00 385.30 234.70 388.30 L234.90 393.30" stroke-width="0.7"/>
<path d="M232.70 386.30 L232.80 389.30" stroke="#333" stroke-width="1" />
<path d="M237.00 384.50 Q235.20 387.50 236.80 390.00 Q238.80 392.00 237.80 394.00 L237.80 396.00" stroke-width="0.7"/>
<path d="M238.50 384.00 Q240.50 387.50 239.20 390.50 L239.40 395.50" stroke-width="0.7"/>
<path d="M237.20 388.50 L237.30 391.50" stroke="#333" stroke-width="1" />
<path d="M241.50 386.70 Q239.70 389.70 241.30 392.20 Q243.30 394.20 242.30 396.20 L242.30 398.20" stroke-width="0.7"/>
<path d="M243.00 386.20 Q245.00 389.70 243.70 392.70 L243.90 397.70" stroke-width="0.7"/>
<path d="M241.70 390.70 L241.80 393.70" stroke="#333" stroke-width="1" />
<path d="M246.00 388.90 Q244.20 391.90 245.80 394.40 Q247.80 396.40 246.80 398.40 L246.80 400.40" stroke-width="0.7"/>
<path d="M247.50 388.40 Q249.50 391.90 248.20 394.90 L248.40 399.90" stroke-width="0.7"/>
<path d="M246.20 392.90 L246.30 395.90" stroke="#333" stroke-width="1" />
<path d="M213.5 373.5 L251.5 391.5 M212 384 L244 400" stroke-width="0.6"/>
<path class="kw" d="M251.2 388.1 L268 378 L274.6 381.1 L275.5 385.5 L272.8 385.9 L268.9 385 L268.4 390.3 L257.4 395.6 L251.2 392.1 Z" stroke-width="0.8"/>
<path d="M253 389 L268 380.5 M258.5 389 l3.5 -1.8 M260.5 391.5 l3.5 -1.8 M263.5 386.5 l2.5 -1.4 M256 392 l2.5 -1.3" stroke-width="0.6"/>
<circle cx="266.3" cy="382.8" r="0.8" stroke-width="0.6"/>
<path d="M256.5 392.5 L263.6 396.3 L264.2 397.8 L262.8 398.8 L255.8 394.8" stroke-width="0.8"/>
<path d="M249 392 l3 1.8 l-0.3 3 M246 394 l2.5 1.5" stroke-width="0.6"/>
</g>

<!-- 70_cables.svg -->
<g class="k">
<!-- 0196 cable -->
<path class="kw" d="M143.6 238 L167.1 231.6 Q169.5 230.5 170.4 228.3 L173.6 220.2 Q175 217 176.9 216.5 L181.7 216.1 L185.8 216.9 L185.4 222.6 L181.7 221 L176 222.2 Q174 223.5 172.8 226.7 L170.4 234 Q169 237 167.1 238.1 L146 242.9 Z" stroke-width="0.7"/>
<path d="M144.5 239.5 L167.5 233.5 Q170.5 232 171.3 229 L174.3 221.5 Q176 218.6 178.5 218.2 L185.6 218.6 M145 241.3 L167.5 235.8 Q170.8 234 171.8 231 L175 223 Q176.8 220.3 179.5 219.8 L185.5 220.6" stroke-width="0.5" stroke="#555"/>
<path d="M148 238.5 l2 3.2 M151 237.7 l2 3.2 M154 236.9 l2 3.2 M157 236.1 l2 3.2 M160 235.3 l2 3.2 M163 234.5 l2 3.2 M166 233.5 l2 3 M171 226 l2 2 M172.5 222 l2 2 M177 217 l1.5 3.8 M180.5 216.3 l1 4.3" stroke="#444" stroke-width="0.7"/>
<path d="M170.2 233 L174 222.5" stroke="#222" stroke-width="1"/>
<!-- left connector -->
<path class="kw" d="M137.1 238.9 L138.7 237.7 L143.6 238.5 L146 240.5 V247.8 L143.6 249.4 L137.5 246.2 Z" stroke-width="1" stroke="#222"/>
<path d="M140.7 239.7 V248 M140.7 239.7 L146 240.5 M142.3 241.5 V247.5 M143.8 241.8 V247.8" stroke-width="0.6"/>
<path d="M138.5 240 V246" stroke="#555" stroke-width="0.9"/>
<!-- right connector -->
<path class="kw" d="M185 217.7 L189 214.9 L191.5 215.3 L192.7 217.7 V224.2 L189 227.5 L185.4 225.9 Z" stroke-width="1" stroke="#222"/>
<path d="M188.5 216.3 L192.5 217.5 M188.5 216.3 V227 M190 218.5 V225.5 M191.3 218.8 V225" stroke-width="0.6"/>
</g>
<g class="k">
<!-- 0193 harness -->
<path d="M136 278.8 L124 280 L112.4 281.3 Q106 282.5 102.6 286.4 Q98 289.5 93.5 290.6" stroke="#555" stroke-width="1.7"/>
<path d="M136 280.3 L124 282 L114 283.3 Q109 284.5 105.9 287.6 Q101.5 292 97.3 293.8" stroke="#555" stroke-width="1.7"/>
<path d="M135.5 282 L125 284 L115.6 285.8 Q111.5 287.5 109.1 290.6 Q105 295 101.2 297" stroke="#555" stroke-width="1.7"/>
<path d="M135 283.6 L126 285.6 L118.9 286.6 Q114.5 288.5 111.6 293 Q108 296.8 104.5 297.9" stroke="#555" stroke-width="1.7"/>
<path d="M136 278.8 L124 280 L112.4 281.3 Q106 282.5 102.6 286.4 Q98 289.5 93.5 290.6" stroke="#fff" stroke-width="0.6"/>
<path d="M136 280.3 L124 282 L114 283.3 Q109 284.5 105.9 287.6 Q101.5 292 97.3 293.8" stroke="#fff" stroke-width="0.6"/>
<path d="M135.5 282 L125 284 L115.6 285.8 Q111.5 287.5 109.1 290.6 Q105 295 101.2 297" stroke="#fff" stroke-width="0.6"/>
<path d="M135 283.6 L126 285.6 L118.9 286.6 Q114.5 288.5 111.6 293 Q108 296.8 104.5 297.9" stroke="#fff" stroke-width="0.6"/>
<path class="kw" stroke-width="0.7" d="M90.4 290.4 L92 289.5 L96.5 291.5 L96 293.5 L92.5 293.8 Z M94 293.8 L95.5 293 L100 295 L99.5 297 L96 297.2 Z M97.5 297 L99 296.3 L103.5 298.2 L103 300 L99.5 300.2 Z"/>
<path class="kw" d="M135.9 275 L139.2 272.6 L146.5 277 L146.9 280.3 L144.1 285.6 L140.8 284.7 L135.9 279.9 Z" stroke-width="0.9"/>
<path d="M139.2 272.6 L139.5 276 L146.5 280 M139.5 276 L140.8 284.7 M137 276 l6 3.5 M137.5 279 l5.5 3.2" stroke-width="0.6"/>
<path d="M140.3 277.5 l4.5 2.8 M140.8 280.5 l3.8 2.4" stroke="#333" stroke-width="1.1"/>
<path d="M140 274.5 l5 3" stroke="#333" stroke-width="1.2"/>
</g>

<!-- 80_icons.svg -->
<g>
<!-- 0199 icon -->
<rect x="759.3" y="68.3" width="27.3" height="26.2" fill="#fff" stroke="#444" stroke-width="0.9"/>
<path d="M759.8 68.8 H767.5 L772.4 78.3 L767.6 88.2 H759.8" fill="none" stroke="#777" stroke-width="0.8"/>
<path d="M759.8 72.3 A6.4 6.4 0 0 1 759.8 85" fill="none" stroke="#999" stroke-width="0.7"/>
<path d="M759.5 68.7 H767" stroke="#444" stroke-width="1.2"/>
<path d="M778.1 94.3 V80.8 Q774.3 79.6 774.2 75.5 L776.5 73.8 Q777 76.8 780 77.3 Q782.3 76.5 782.3 74.3 L779.8 71.5 Q784 71.3 784.8 75.5 Q785 79.5 782.5 80.8 V94.3 Z" fill="#111"/>
<!-- 0198 icon -->
<g>
<rect x="759.2" y="115.6" width="27.2" height="26.6" rx="0.8" fill="#fff" stroke="#444" stroke-width="0.9"/>
<g fill="#fff" stroke="#333" stroke-width="0.7" stroke-linejoin="round">
<path d="M761.00 117.1 L763.70 117.1 L764.90 118.3 L766.10 117.1 L768.80 117.1 L766.40 120.6 H763.40 Z"/>
<path d="M763.40 120.6 H766.40 V126.8 H763.40 Z"/>
<path d="M762.85 126.80 L763.51 128.04 L763.07 129.28 L763.73 130.52 L763.29 131.76 L763.95 133.00 L763.51 134.24 L764.17 135.48 L763.73 136.72 L764.39 137.96 L763.95 139.20 L765.85 139.20 L765.41 138.46 L766.07 136.72 L765.63 135.98 L766.29 134.24 L765.85 133.50 L766.51 131.76 L766.07 131.02 L766.73 129.28 L766.29 128.54 L766.95 126.80 Z" fill="#666"/>
<path d="M764.50 139.2 L764.90 140.6 L765.30 139.2" fill="none"/>
<path d="M777.00 117.1 L779.70 117.1 L780.90 118.3 L782.10 117.1 L784.80 117.1 L782.40 120.6 H779.40 Z"/>
<path d="M779.40 120.6 H782.40 V126.8 H779.40 Z"/>
<path d="M778.85 126.80 L779.51 128.04 L779.07 129.28 L779.73 130.52 L779.29 131.76 L779.95 133.00 L779.51 134.24 L780.17 135.48 L779.73 136.72 L780.39 137.96 L779.95 139.20 L781.85 139.20 L781.41 138.46 L782.07 136.72 L781.63 135.98 L782.29 134.24 L781.85 133.50 L782.51 131.76 L782.07 131.02 L782.73 129.28 L782.29 128.54 L782.95 126.80 Z" fill="#666"/>
<path d="M780.50 139.2 L780.90 140.6 L781.30 139.2" fill="none"/>
<path d="M773.00 117.2 L773.60 119 L772.40 119 Z" fill="#444"/>
<path d="M772.00 119.00 L772.45 120.16 L771.79 121.32 L772.24 122.48 L771.58 123.64 L772.02 124.80 L771.37 125.96 L771.82 127.12 L771.16 128.28 L771.61 129.44 L770.95 130.60 L775.05 130.60 L774.39 129.94 L774.84 128.28 L774.18 127.62 L774.63 125.96 L773.98 125.30 L774.42 123.64 L773.76 122.98 L774.21 121.32 L773.55 120.66 L774.00 119.00 Z" fill="#666"/>
<path d="M771.50 130.6 H774.50 V136.6 H771.50 Z"/>
<path d="M771.50 136.6 H774.50 L777.00 140.8 H769.00 Z"/>
<path d="M771.40 140.6 Q773.00 138.6 774.60 140.6" fill="none" stroke-width="0.6"/>
</g>
</g>
</g>


<text x="760.6" y="107.4">0199</text>
<text x="761.0" y="155.4">0198</text>
<text x="310.7" y="217.4">0174</text>
<text x="348.1" y="249.0">0175</text>
<text x="160.9" y="249.9">0196</text>
<text x="92.7" y="275.1">0193</text>
<text x="338.7" y="295.6">0124</text>
<text x="365.4" y="309.0">0161</text>
<text x="387.0" y="321.7">0160</text>
<text x="401.8" y="334.0">0115</text>
<text x="485.7" y="320.8">0132</text>
<text x="451.6" y="360.9">0128</text>
<text x="259.2" y="361.3">0125</text>
<text x="245.0" y="424.0">0115</text>
<text x="355.0" y="396.0">0132</text>
<text x="321.0" y="436.1">0129</text>
<text x="631.8" y="284.3">0134</text>
<text x="633.9" y="334.3">0130</text>
<text x="613.3" y="390.2">0120</text>
<text x="656.0" y="441.9">0101</text>
<text x="456.2" y="481.1">0120</text>
<text x="495.2" y="533.6">0101</text>
<text class="ft" x="8.8" y="554">58300000206435 aet 001 b</text>
</svg>
</body></html>
